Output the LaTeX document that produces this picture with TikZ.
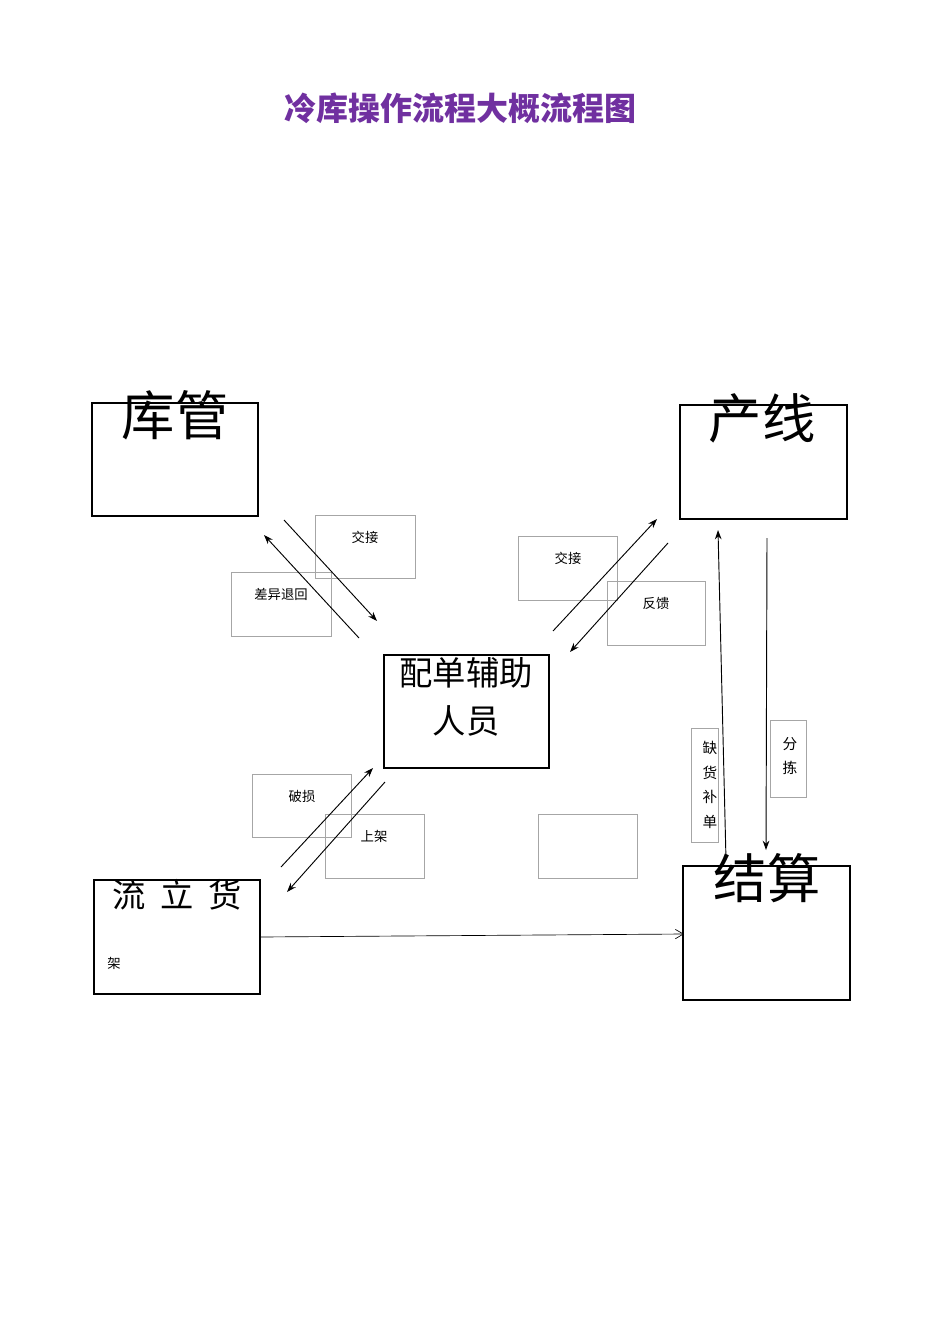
\documentclass[tikz,border=0pt]{standalone}
\usepackage{fontspec}
\newfontfamily\cjk{Noto Sans CJK SC}
\usetikzlibrary{arrows.meta}
\definecolor{ttl}{RGB}{112,48,160}
\begin{document}
\begin{tikzpicture}[x=0.75pt,y=-0.75pt,
  bigbox/.style={draw,line width=0.8pt},
  lblbox/.style={draw=black!35,line width=0.4pt},
  small/.style={font=\cjk\fontsize{10}{12}\selectfont},
  arr/.style={-{Stealth[length=7pt,width=5pt]},line width=0.7pt}]
\useasboundingbox (0,0) rectangle (950,1344);
\node[font=\cjk\fontsize{24}{28}\selectfont\bfseries,text=ttl] (title) at (460,108) {冷库操作流程大概流程图};
% main boxes
\draw[bigbox] (92,403) rectangle (258,516);
\node[font=\cjk\fontsize{40}{44}\selectfont] (kg) at (175,415) {库管};
\draw[bigbox] (680,405) rectangle (847,519);
\node[font=\cjk\fontsize{40}{44}\selectfont] (cx) at (762,418) {产线};
\draw[bigbox] (384,655) rectangle (549,768);
\node[font=\cjk\fontsize{25}{36}\selectfont,align=center] (pd) at (466,697) {配单辅助\\人员};
\draw[bigbox] (94,880) rectangle (260,994);
\node[font=\cjk\fontsize{25}{30}\selectfont] (ll) at (177,895) {流\ \ 立\ \ 货};
\node[small] (jia) at (114,963) {架};
\draw[bigbox] (683,866) rectangle (850,1000);
\node[font=\cjk\fontsize{40}{44}\selectfont] (js) at (767,878) {结算};
% label boxes
\draw[lblbox] (315,515) rectangle (415,578); \node[small] (l1) at (365,537) {交接};
\draw[lblbox] (231,572) rectangle (331,636); \node[small] (l2) at (281,594) {差异退回};
\draw[lblbox] (518,536) rectangle (617,600); \node[small] (l3) at (568,558) {交接};
\draw[lblbox] (607,581) rectangle (705,645); \node[small] (l4) at (656,603) {反馈};
\draw[lblbox] (252,774) rectangle (351,837); \node[small] (l5) at (302,796) {破损};
\draw[lblbox] (325,814) rectangle (424,878); \node[small] (l6) at (374,836) {上架};
\draw[lblbox] (538,814) rectangle (637,878);
\draw[lblbox] (691,728) rectangle (718,842);
\node[small,align=center,font=\cjk\fontsize{11}{18.5}\selectfont] (l7) at (710,785) {缺\\货\\补\\单};
\draw[lblbox] (770,720) rectangle (806,797);
\node[small,align=center,font=\cjk\fontsize{11}{18.5}\selectfont] (l8) at (790,756) {分\\拣};
% arrows
\coordinate (a1) at (284,520); \coordinate (b1) at (377,621);
\coordinate (a2) at (359,638); \coordinate (b2) at (264,535);
\coordinate (a3) at (553,631); \coordinate (b3) at (657,519);
\coordinate (a4) at (668,543); \coordinate (b4) at (570,652);
\coordinate (a5) at (281,867); \coordinate (b5) at (373,768);
\coordinate (a6) at (385,782); \coordinate (b6) at (287,892);
\coordinate (a7) at (726,860); \coordinate (b7) at (718,530);
\coordinate (a8) at (767,538); \coordinate (b8) at (766,850);
\coordinate (a9) at (260,937); \coordinate (b9) at (684,934);
\foreach \i in {1,...,8} \draw[arr] (a\i) -- (b\i);
\draw[-{Straight Barb[length=6pt,width=7pt]},line width=0.5pt] (a9) -- (b9);
\end{tikzpicture}
\end{document}
